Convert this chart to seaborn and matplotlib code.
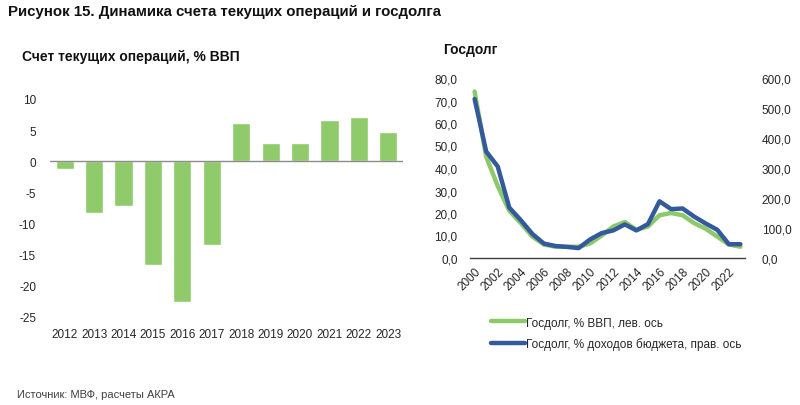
import matplotlib
matplotlib.use("Agg")
import matplotlib.pyplot as plt
import seaborn as sns
import pandas as pd
from matplotlib.ticker import FuncFormatter

sns.set_theme(style="white")
plt.rcParams['font.family'] = ['Liberation Sans', 'DejaVu Sans']
plt.rcParams['axes.unicode_minus'] = False

# Current account, % GDP
ca_years = ["2012", "2013", "2014", "2015", "2016", "2017", "2018", "2019", "2020", "2021", "2022", "2023"]
ca_values = [-1.2, -8.3, -7.2, -16.7, -22.6, -13.5, 6.2, 2.9, 2.9, 6.6, 7.1, 4.7]

# Public debt
debt_years = list(range(2000, 2024))
debt_gdp = [74.0, 45.0, 32.0, 21.0, 15.5, 9.5, 6.0, 5.0, 5.0, 5.0, 6.5, 10.0, 14.0, 16.0, 12.5, 14.0,
            19.0, 20.0, 19.0, 15.5, 13.0, 9.5, 6.0, 5.0]
debt_rev = [530, 355, 305, 168, 126, 80, 48, 40, 37, 33, 62, 83, 92, 112, 92, 113,
            189, 163, 165, 138, 115, 94, 46, 46]
right_xticks = list(range(2000, 2023, 2))

green_bar = "#8FCB6B"
green_line = "#8DC96B"
blue_line = "#335A9B"
txt = "#262626"

fig = plt.figure(figsize=(8, 4.06), dpi=100)

fig.text(8/800, 1 - 12/406, "Рисунок 15. Динамика счета текущих операций и госдолга",
         fontsize=10.8, fontweight="bold", va="center", ha="left", color="#111111")
fig.text(22/800, 1 - 57/406, "Счет текущих операций, % ВВП",
         fontsize=10, fontweight="bold", va="center", ha="left", color="#111111")
fig.text(443/800, 1 - 50/406, "Госдолг",
         fontsize=10, fontweight="bold", va="center", ha="left", color="#111111")
fig.text(17/800, 1 - 395/406, "Источник: МВФ, расчеты АКРА",
         fontsize=8, va="center", ha="left", color="#404040")

# ---- left: bar chart
ax1 = fig.add_axes([50/800, 1 - 318/406, 353/800, 218/406])
df_ca = pd.DataFrame({"year": ca_years, "value": ca_values})
sns.barplot(data=df_ca, x="year", y="value", color=green_bar, width=0.62,
            saturation=1, ax=ax1)
ax1.set_ylim(-25, 10)
ax1.set_xlim(-0.5, 11.5)
ax1.set_yticks([10, 5, 0, -5, -10, -15, -20, -25])
ax1.axhline(0, color="#8C8C8C", lw=1, zorder=3)
for s in ax1.spines.values():
    s.set_visible(False)
ax1.set_xlabel("")
ax1.set_ylabel("")
ax1.tick_params(axis="y", length=0, pad=10, labelsize=8.5, labelcolor=txt)
ax1.tick_params(axis="x", length=0, pad=8, labelsize=8.5, labelcolor=txt)

# ---- right: line chart, twin axes
ax2 = fig.add_axes([470/800, 1 - 259/406, 275/800, 180/406])
df_d = pd.DataFrame({"year": debt_years, "gdp": debt_gdp, "rev": debt_rev})
sns.lineplot(data=df_d, x="year", y="gdp", color=green_line, lw=3.2, ax=ax2,
             label="Госдолг, % ВВП, лев. ось", legend=False)
ax2.set_ylim(0, 80)
ax2.set_xlim(1999.6, 2023.4)
ax2.set_yticks(range(0, 81, 10))
ax2.yaxis.set_major_formatter(FuncFormatter(lambda v, p: f"{v:.1f}".replace(".", ",")))
ax2.set_xticks(right_xticks)
ax2.set_xticklabels([str(y) for y in right_xticks], rotation=45, ha="right",
                    rotation_mode="anchor")
for k in ["top", "right", "left"]:
    ax2.spines[k].set_visible(False)
ax2.spines["bottom"].set_color("#404040")
ax2.spines["bottom"].set_linewidth(1)
ax2.set_xlabel("")
ax2.set_ylabel("")
ax2.tick_params(axis="y", length=0, pad=9, labelsize=8.5, labelcolor=txt)
ax2.tick_params(axis="x", length=0, pad=5, labelsize=8.5, labelcolor=txt)

ax3 = ax2.twinx()
sns.lineplot(data=df_d, x="year", y="rev", color=blue_line, lw=3.2, ax=ax3,
             label="Госдолг, % доходов бюджета, прав. ось", legend=False)
ax3.set_ylim(0, 600)
ax3.set_yticks(range(0, 601, 100))
ax3.yaxis.set_major_formatter(FuncFormatter(lambda v, p: f"{v:.1f}".replace(".", ",")))
for s in ax3.spines.values():
    s.set_visible(False)
ax3.set_ylabel("")
ax3.tick_params(axis="y", length=0, pad=12, labelsize=8.5, labelcolor=txt)

h1, l1 = ax2.get_legend_handles_labels()
h2, l2 = ax3.get_legend_handles_labels()
fig.legend(h1 + h2, l1 + l2, loc="upper left", bbox_to_anchor=(480/800, 1 - 307/406),
           frameon=False, fontsize=8.5, handlelength=2.9, handletextpad=0.1,
           labelspacing=0.75, labelcolor=txt)

fig.savefig("out.png", dpi=100)
